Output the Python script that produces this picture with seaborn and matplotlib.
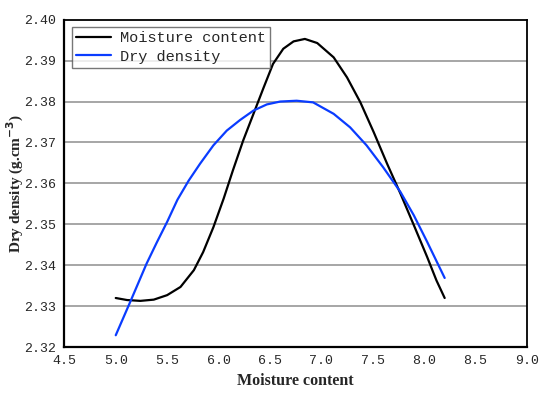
import matplotlib
matplotlib.use("Agg")
import matplotlib.pyplot as plt
import seaborn as sns
import pandas as pd

# Moisture content curve (black)
mc_x = [5.00, 5.11, 5.24, 5.37, 5.50, 5.63, 5.76, 5.85, 5.95, 6.05, 6.14, 6.24, 6.34,
        6.44, 6.53, 6.63, 6.73, 6.84, 6.96, 7.12, 7.25, 7.38, 7.51, 7.64, 7.77, 7.90,
        8.03, 8.12, 8.20]
mc_y = [2.3320, 2.3315, 2.3313, 2.3316, 2.3327, 2.3347, 2.3388, 2.3432, 2.3493, 2.3563,
        2.3632, 2.3705, 2.3770, 2.3835, 2.3892, 2.3929, 2.3947, 2.3953, 2.3943, 2.3908,
        2.3859, 2.3798, 2.3725, 2.3648, 2.3575, 2.3498, 2.3420, 2.3363, 2.3320]

# Dry density curve (blue)
dd_x = [5.00, 5.14, 5.30, 5.40, 5.50, 5.60, 5.71, 5.82, 5.95, 6.08, 6.21, 6.34, 6.47,
        6.60, 6.76, 6.92, 7.12, 7.28, 7.44, 7.60, 7.77, 7.90, 8.03, 8.20]
dd_y = [2.3229, 2.3310, 2.3404, 2.3456, 2.3506, 2.3560, 2.3607, 2.3648, 2.3693, 2.3729,
        2.3755, 2.3778, 2.3793, 2.3800, 2.3802, 2.3798, 2.3770, 2.3737, 2.3693, 2.3640,
        2.3579, 2.3522, 2.3457, 2.3369]

x_ticks = [4.5, 5.0, 5.5, 6.0, 6.5, 7.0, 7.5, 8.0, 8.5, 9.0]
y_ticks = [2.32, 2.33, 2.34, 2.35, 2.36, 2.37, 2.38, 2.39, 2.40]

df = pd.concat([
    pd.DataFrame({"x": mc_x, "y": mc_y, "series": "Moisture content"}),
    pd.DataFrame({"x": dd_x, "y": dd_y, "series": "Dry density"}),
])

sns.set_style("white")
fig = plt.figure(figsize=(5.5, 3.94), dpi=100)
ax = fig.add_axes([0.117, 0.119, 0.841, 0.831])

ax.set_yticks(y_ticks)
for yv in y_ticks[1:-1]:
    ax.axhline(yv, color="#a6a6a6", lw=1.4, zorder=0)

sns.lineplot(data=df, x="x", y="y", hue="series", sort=False,
             palette={"Moisture content": "black", "Dry density": "#0a3cff"},
             linewidth=1.6, ax=ax, estimator=None)

ax.set_xlim(4.5, 9.0)
ax.set_ylim(2.32, 2.40)
ax.set_xticks(x_ticks)
ax.set_xticklabels([f"{v:.1f}" for v in x_ticks], family="Liberation Mono", fontsize=9.5)
ax.set_yticklabels([f"{v:.2f}" for v in y_ticks], family="Liberation Mono", fontsize=9.5)
ax.tick_params(axis="x", direction="in", length=5, width=1.2, color="black", pad=6)
ax.tick_params(axis="y", direction="in", length=0, pad=6)
for s in ax.spines.values():
    s.set_color("black")
    s.set_linewidth(1.3)
ax.spines["left"].set_linewidth(1.6)
ax.spines["bottom"].set_linewidth(1.6)

ax.set_xlabel("Moisture content", family="Liberation Serif", fontweight="bold", fontsize=11.5)
ax.set_ylabel(r"Dry density (g.cm$^{\mathbf{-3}}$)", family="Liberation Serif",
              fontweight="bold", fontsize=11)
ax.yaxis.set_label_coords(-0.083, 0.5)

leg = ax.legend(loc="upper left", title=None, frameon=True, fancybox=False,
                prop={"family": "Liberation Mono", "size": 11},
                handlelength=2.3, borderaxespad=0.5, borderpad=0.25,
                labelspacing=0.3, handletextpad=0.6)
leg.get_frame().set_edgecolor("#555555")
leg.get_frame().set_linewidth(1.0)

fig.savefig("out.png", dpi=100)
